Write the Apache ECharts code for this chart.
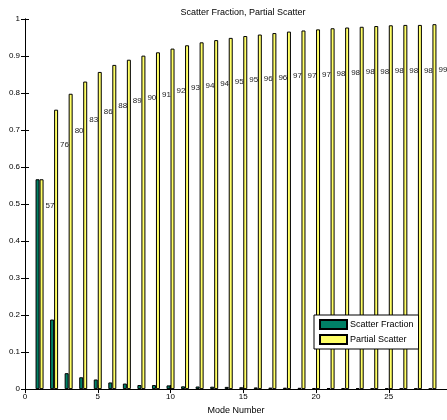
<!DOCTYPE html>
<html>
<head>
<meta charset="utf-8">
<script src="https://cdn.jsdelivr.net/npm/echarts@6/dist/echarts.min.js"></script>
<style>html,body{margin:0;padding:0;background:#fff}#c{width:447px;height:420px}</style>
</head>
<body>
<div id="c"></div>
<script>
const modes = [1,2,3,4,5,6,7,8,9,10,11,12,13,14,15,16,17,18,19,20,21,22,23,24,25,26,27,28];
const scatterFraction = [0.567,0.188,0.043,0.032,0.026,0.018,0.015,0.011,0.011,0.010,0.0075,0.007,0.0065,0.006,0.005,0.0045,0.004,0.0038,0.0035,0.003,0.003,0.0025,0.0025,0.002,0.002,0.002,0.0018,0.0016];
const partialScatter = [0.567,0.755,0.798,0.831,0.857,0.876,0.890,0.901,0.910,0.920,0.929,0.937,0.943,0.949,0.954,0.958,0.962,0.966,0.969,0.972,0.975,0.977,0.979,0.981,0.983,0.984,0.984,0.986];
const seriesNames = ['Scatter Fraction','Partial Scatter'];
const titleText = 'Scatter Fraction, Partial Scatter';
const xName = 'Mode Number';

const FONT = 'Liberation Sans, Arial, Helvetica, sans-serif';
const chart = echarts.init(document.getElementById('c'), null, {renderer:'canvas'});
const axisCommon = {
  axisLine:{show:true,lineStyle:{color:'#000',width:1}},
  axisTick:{show:true,inside:true,length:4,lineStyle:{color:'#000'}},
  splitLine:{show:false}
};
chart.setOption({
  animation:false,
  backgroundColor:'#fff',
  title:{text:titleText,left:238,top:3,textAlign:'center',
    textStyle:{fontFamily:FONT,fontSize:9,fontWeight:'normal',color:'#000'}},
  legend:{orient:'vertical',left:314,top:315,padding:[4,5,4,5],itemGap:4,
    itemWidth:27,itemHeight:9,icon:'rect',backgroundColor:'#fff',borderColor:'#000',borderWidth:1,
    textStyle:{fontFamily:FONT,fontSize:9,color:'#000',padding:[0,0,0,-2]},
    data:seriesNames},
  grid:{left:25,right:-3,top:19,bottom:29,containLabel:false},
  xAxis:[
    Object.assign({type:'value',position:'bottom',min:0,max:29,interval:5,
      name:xName,nameLocation:'middle',nameGap:15,
      nameTextStyle:{fontFamily:FONT,fontSize:9,color:'#000'},
      axisLabel:{fontFamily:FONT,fontSize:8,color:'#000',margin:4,showMaxLabel:false}},axisCommon),
    Object.assign({type:'value',position:'top',min:0,max:29,interval:5,
      axisLabel:{show:false}},axisCommon)
  ],
  yAxis:[
    Object.assign({type:'value',position:'left',min:0,max:1,interval:0.1,
      axisLabel:{fontFamily:FONT,fontSize:8,color:'#000',margin:5}},axisCommon),
    Object.assign({type:'value',position:'right',min:0,max:1,interval:0.1,
      axisLabel:{show:false}},axisCommon)
  ],
  series:[
    {name:seriesNames[0],type:'bar',xAxisIndex:0,yAxisIndex:0,barWidth:4,barGap:'0%',
      itemStyle:{color:'#008066',borderColor:'#000',borderWidth:1},
      data:modes.map((m,i)=>[m,scatterFraction[i]])},
    {name:seriesNames[1],type:'bar',xAxisIndex:0,yAxisIndex:0,barWidth:4,barGap:'0%',
      itemStyle:{color:'#ffff66',borderColor:'#000',borderWidth:1},
      label:{show:true,position:['100%','12.5%'],offset:[2,0],align:'left',verticalAlign:'middle',
        fontFamily:FONT,fontSize:8,color:'#222',
        formatter:p=>String(Math.round(p.value[1]*100))},
      data:modes.map((m,i)=>[m,partialScatter[i]])}
  ]
});
</script>
</body>
</html>
